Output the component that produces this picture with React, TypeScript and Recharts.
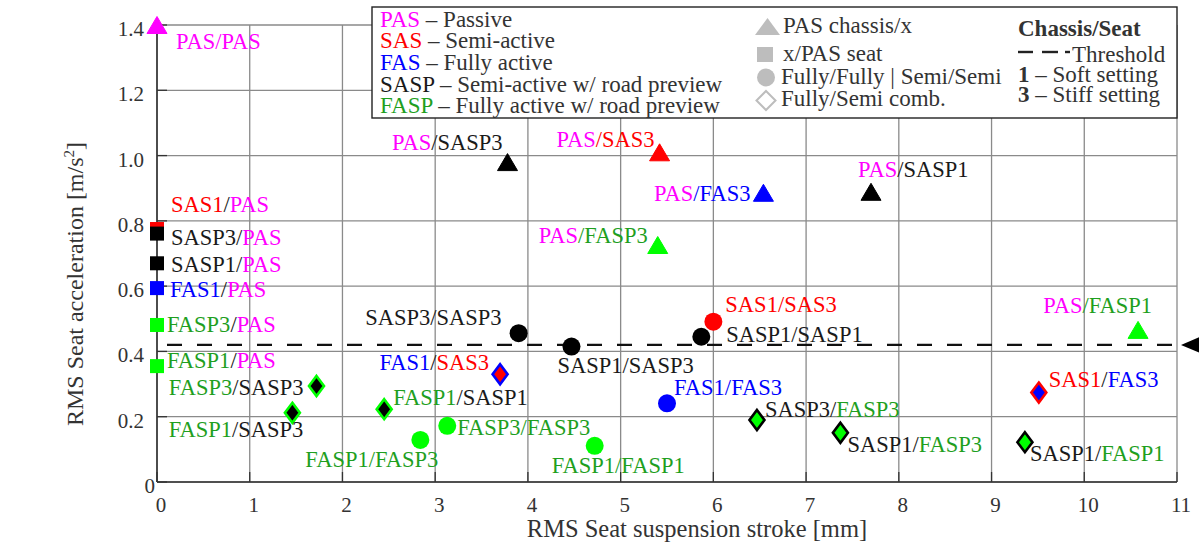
import React from 'react';
import {
  ScatterChart,
  Scatter,
  XAxis,
  YAxis,
  CartesianGrid,
  ReferenceLine,
  ReferenceDot,
} from 'recharts';

// ---------------- data ----------------
const xTicks = [0, 1, 2, 3, 4, 5, 6, 7, 8, 9, 10, 11];
const yTicks = [0, 0.2, 0.4, 0.6, 0.8, 1.0, 1.2, 1.4];
const yTickLabels = ['0', '0.2', '0.4', '0.6', '0.8', '1.0', '1.2', '1.4'];
const threshold = 0.42;

// PAS chassis / x seat  (triangles)
const trianglePoints = [
  { name: 'PAS/PAS', x: 0, y: 1.4 },
  { name: 'PAS/SASP3', x: 3.78, y: 0.98 },
  { name: 'PAS/SAS3', x: 5.42, y: 1.01 },
  { name: 'PAS/FAS3', x: 6.54, y: 0.886 },
  { name: 'PAS/FASP3', x: 5.4, y: 0.726 },
  { name: 'PAS/SASP1', x: 7.7, y: 0.889 },
  { name: 'PAS/FASP1', x: 10.58, y: 0.466 },
];

// x chassis / PAS seat (squares)
const squarePoints = [
  { name: 'SAS1/PAS', x: 0, y: 0.775 },
  { name: 'SASP3/PAS', x: 0, y: 0.761 },
  { name: 'SASP1/PAS', x: 0, y: 0.67 },
  { name: 'FAS1/PAS', x: 0, y: 0.594 },
  { name: 'FASP3/PAS', x: 0, y: 0.481 },
  { name: 'FASP1/PAS', x: 0, y: 0.355 },
];

// Fully/Fully | Semi/Semi (circles)
const circlePoints = [
  { name: 'SASP3/SASP3', x: 3.9, y: 0.456 },
  { name: 'SASP1/SASP3', x: 4.47, y: 0.415 },
  { name: 'SAS1/SAS3', x: 6.0, y: 0.491 },
  { name: 'SASP1/SASP1', x: 5.87, y: 0.445 },
  { name: 'FAS1/FAS3', x: 5.5, y: 0.241 },
  { name: 'FASP3/FASP3', x: 3.13, y: 0.172 },
  { name: 'FASP1/FASP3', x: 2.84, y: 0.129 },
  { name: 'FASP1/FASP1', x: 4.72, y: 0.111 },
];

// Fully/Semi combinations (diamonds)
const diamondPoints = [
  { name: 'FAS1/SAS3', x: 3.7, y: 0.33 },
  { name: 'FASP3/SASP3', x: 1.72, y: 0.294 },
  { name: 'FASP1/SASP3', x: 1.46, y: 0.212 },
  { name: 'FASP1/SASP1', x: 2.45, y: 0.223 },
  { name: 'SASP3/FASP3', x: 6.47, y: 0.19 },
  { name: 'SASP1/FASP3', x: 7.37, y: 0.151 },
  { name: 'SASP1/FASP1', x: 9.36, y: 0.122 },
  { name: 'SAS1/FAS3', x: 9.51, y: 0.274 },
];

// label placement relative to the marker: [dx, dy(baseline), anchor]
const labelPlacement: Record<string, [number, number, 'start' | 'end']> = {
  'PAS/PAS': [19, 24, 'start'],
  'PAS/SASP3': [-5, -12, 'end'],
  'PAS/SAS3': [-5, -5, 'end'],
  'PAS/FAS3': [-13, 8, 'end'],
  'PAS/FASP3': [-10, -2, 'end'],
  'PAS/SASP1': [-13, -15, 'start'],
  'PAS/FASP1': [14, -17, 'end'],
  'SAS1/PAS': [14, -17, 'start'],
  'SASP3/PAS': [14, 11, 'start'],
  'SASP1/PAS': [14, 9, 'start'],
  'FAS1/PAS': [13, 9, 'start'],
  'FASP3/PAS': [10, 7, 'start'],
  'FASP1/PAS': [10, 2, 'start'],
  'SASP3/SASP3': [-17, -8, 'end'],
  'SASP1/SASP3': [-14, 26, 'start'],
  'SASP1/SASP1': [25, 5, 'start'],
  'SAS1/SAS3': [12, -10, 'start'],
  'FAS1/FAS3': [7, -8, 'start'],
  'FASP3/FASP3': [10, 9, 'start'],
  'FASP1/FASP3': [18, 27, 'end'],
  'FASP1/FASP1': [-43, 27, 'start'],
  'FAS1/SAS3': [-11, -4, 'end'],
  'FASP3/SASP3': [-13, 9, 'end'],
  'FASP1/SASP3': [11, 24, 'end'],
  'FASP1/SASP1': [9, -4, 'start'],
  'SASP3/FASP3': [8, -3, 'start'],
  'SASP1/FASP3': [7, 19, 'start'],
  'SASP1/FASP1': [5, 19, 'start'],
  'SAS1/FAS3': [10, -6, 'start'],
};

// ---------------- styles ----------------
const FONT = '"Liberation Serif", "Times New Roman", serif';
const MAGENTA = '#ff00ff';
const RED = '#ff0000';
const BLUE = '#0000ff';
const BLACK = '#000000';
const GREEN_MARK = '#00ff00';
const GREEN_TEXT = '#1f9f1f';
const DARK_TEXT = '#1a1a1a';
const AXIS = '#333333';

const kindOf = (p: string) =>
  p.startsWith('PAS') ? 'PAS' : p.startsWith('SASP') ? 'SASP' : p.startsWith('SAS') ? 'SAS' : p.startsWith('FASP') ? 'FASP' : 'FAS';

const markColor = (p: string) =>
  ({ PAS: MAGENTA, SASP: BLACK, SAS: RED, FASP: GREEN_MARK, FAS: BLUE } as Record<string, string>)[kindOf(p)];
const textColor = (p: string) =>
  ({ PAS: MAGENTA, SASP: DARK_TEXT, SAS: RED, FASP: GREEN_TEXT, FAS: BLUE } as Record<string, string>)[kindOf(p)];

const PointLabel = ({ cx, cy, name }: { cx: number; cy: number; name: string }) => {
  const [a, b] = name.split('/');
  const place = labelPlacement[name] || [10, 0, 'start'];
  const ka = kindOf(a);
  const kb = kindOf(b);
  const slash = ka === 'PAS' ? textColor(b) : ka === kb ? textColor(a) : DARK_TEXT;
  return (
    <text
      x={cx + place[0]}
      y={cy + place[1]}
      textAnchor={place[2]}
      fontFamily={FONT}
      fontSize={22.5}
    >
      <tspan fill={textColor(a)}>{a}</tspan>
      <tspan fill={slash}>/</tspan>
      <tspan fill={textColor(b)}>{b}</tspan>
    </text>
  );
};

type Kind = 'triangle' | 'square' | 'circle' | 'diamond';

const makeShape = (kind: Kind) => (props: any) => {
  const { cx, cy, payload } = props;
  if (cx == null || cy == null) return <g />;
  const name: string = payload.name;
  const [chassis, seat] = name.split('/');
  let mark: React.ReactNode = null;
  if (kind === 'triangle') {
    mark = (
      <polygon
        points={`${cx},${cy - 8.5} ${cx - 10},${cy + 8.5} ${cx + 10},${cy + 8.5}`}
        fill={markColor(seat)}
        stroke={markColor(seat)}
        strokeWidth={1}
        strokeLinejoin="round"
      />
    );
  } else if (kind === 'square') {
    mark = <rect x={cx - 7} y={cy - 7} width={14} height={14} fill={markColor(chassis)} />;
  } else if (kind === 'circle') {
    mark = <circle cx={cx} cy={cy} r={9} fill={markColor(seat)} />;
  } else {
    mark = (
      <polygon
        points={`${cx},${cy - 10} ${cx + 7.5},${cy} ${cx},${cy + 10} ${cx - 7.5},${cy}`}
        fill={markColor(seat)}
        stroke={markColor(chassis)}
        strokeWidth={2.6}
        strokeLinejoin="miter"
      />
    );
  }
  return (
    <g>
      {mark}
      <PointLabel cx={cx} cy={cy} name={name} />
    </g>
  );
};

const XTick = (props: any) => {
  const { x, y, payload } = props;
  return (
    <text x={x + 4} y={y + 40} textAnchor="middle" fontFamily={FONT} fontSize={21} fill={AXIS}>
      {payload.value}
    </text>
  );
};

const YTick = (props: any) => {
  const { x, y, payload } = props;
  const i = yTicks.indexOf(payload.value);
  const label = i >= 0 ? yTickLabels[i] : String(payload.value);
  const shift = payload.value === 0 ? -12 : -23;
  return (
    <text x={x + shift} y={y + 11} textAnchor="end" fontFamily={FONT} fontSize={21} fill={AXIS}>
      {label}
    </text>
  );
};

const NoTick = () => <g />;

const XTitle = () => (
  <text x={697} y={537} textAnchor="middle" fontFamily={FONT} fontSize={24.5} fill={AXIS}>
    RMS Seat suspension stroke [mm]
  </text>
);

const YTitle = () => (
  <text
    transform="translate(83,284) rotate(-90)"
    textAnchor="middle"
    fontFamily={FONT}
    fontSize={24}
    fill={AXIS}
  >
    RMS Seat acceleration [m/s
    <tspan dy={-9} fontSize={15}>2</tspan>
    <tspan dy={9}>]</tspan>
  </text>
);

const ArrowShape = (props: any) => {
  const { cx, cy } = props;
  return <polygon points={`${cx + 4},${cy} ${cx + 25},${cy - 9} ${cx + 25},${cy + 9}`} fill={BLACK} />;
};

const Legend = () => {
  const grey = '#bdbdbd';
  const t = { fontFamily: FONT, fontSize: 23 } as const;
  const rows: [string, string, string][] = [
    ['PAS', MAGENTA, ' – Passive'],
    ['SAS', RED, ' – Semi-active'],
    ['FAS', BLUE, ' – Fully active'],
    ['SASP', DARK_TEXT, ' – Semi-active w/ road preview'],
    ['FASP', GREEN_TEXT, ' – Fully active w/ road preview'],
  ];
  return (
    <svg
      width={1199}
      height={547}
      style={{ position: 'absolute', left: 0, top: 0, pointerEvents: 'none' }}
    >
      <rect x={372} y={7} width={805} height={111} fill="#ffffff" stroke="#222" strokeWidth={1.4} />
      {rows.map((r, i) => (
        <text key={r[0]} x={380} y={26.7 + i * 21.6} {...t}>
          <tspan fill={r[1]}>{r[0]}</tspan>
          <tspan fill={AXIS}>{r[2]}</tspan>
        </text>
      ))}
      <polygon points="767.5,18 755,35 780,35" fill={grey} />
      <text x={783} y={33} {...t} fill={AXIS}>PAS chassis/x</text>
      <rect x={757} y={47} width={16} height={15} fill={grey} />
      <text x={783} y={61} {...t} fill={AXIS}>x/PAS seat</text>
      <circle cx={766} cy={77.5} r={9} fill={grey} />
      <text x={781} y={84} {...t} fill={AXIS}>Fully/Fully | Semi/Semi</text>
      <polygon points="766,91 775.5,100.5 766,110 756.5,100.5" fill="#fff" stroke={grey} strokeWidth={2} />
      <text x={781} y={106} {...t} fill={AXIS}>Fully/Semi comb.</text>

      <text x={1018} y={36} {...t} fontWeight="bold" fill={AXIS}>Chassis/Seat</text>
      <line x1={1018} y1={52} x2={1033} y2={52} stroke="#222" strokeWidth={2.4} />
      <line x1={1042} y1={52} x2={1058} y2={52} stroke="#222" strokeWidth={2.4} />
      <line x1={1065} y1={52} x2={1070} y2={52} stroke="#222" strokeWidth={2.4} />
      <text x={1072} y={62} {...t} fill={AXIS}>Threshold</text>
      <text x={1018} y={82} {...t} fill={AXIS}>
        <tspan fontWeight="bold">1</tspan> – Soft setting
      </text>
      <text x={1018} y={102} {...t} fill={AXIS}>
        <tspan fontWeight="bold">3</tspan> – Stiff setting
      </text>
    </svg>
  );
};

export default function App() {
  return (
    <div style={{ position: 'relative', width: 1199, height: 547, background: '#fff' }}>
      <style>{'body{margin:0;}'}</style>
      <ScatterChart width={1199} height={547} margin={{ top: 25, right: 22, bottom: 0, left: 0 }}>
        <CartesianGrid stroke="#8a8a8a" strokeWidth={1.3} />
        <XAxis
          type="number"
          dataKey="x"
          domain={[0, 11]}
          ticks={xTicks}
          interval={0}
          height={65}
          tickSize={-10}
          tickMargin={0}
          tick={<XTick />}
          tickLine={{ stroke: AXIS, strokeWidth: 1.3 }}
          axisLine={{ stroke: AXIS, strokeWidth: 1.6 }}
          label={<XTitle />}
        />
        <XAxis
          xAxisId="top"
          orientation="top"
          type="number"
          domain={[0, 11]}
          ticks={xTicks}
          interval={0}
          height={0}
          tickSize={-10}
          tickMargin={0}
          tick={NoTick}
          tickLine={{ stroke: AXIS, strokeWidth: 1.3 }}
          axisLine={{ stroke: AXIS, strokeWidth: 1.6 }}
        />
        <YAxis
          type="number"
          dataKey="y"
          domain={[0, 1.4]}
          ticks={yTicks}
          interval={0}
          width={157}
          tickSize={-10}
          tickMargin={0}
          tick={<YTick />}
          tickLine={{ stroke: AXIS, strokeWidth: 1.3 }}
          axisLine={{ stroke: AXIS, strokeWidth: 1.6 }}
          label={<YTitle />}
        />
        <YAxis
          yAxisId="right"
          orientation="right"
          type="number"
          domain={[0, 1.4]}
          ticks={yTicks}
          interval={0}
          width={0}
          tickSize={-10}
          tickMargin={0}
          tick={NoTick}
          tickLine={{ stroke: AXIS, strokeWidth: 1.3 }}
          axisLine={{ stroke: '#666', strokeWidth: 1.6 }}
        />
        <ReferenceLine
          y={threshold}
          stroke="#111"
          strokeWidth={2.2}
          strokeDasharray="15 15"
          strokeDashoffset={20}
        />
        <ReferenceDot x={11} y={threshold} r={8} shape={ArrowShape} ifOverflow="visible" />
        <Scatter data={squarePoints} shape={makeShape('square')} isAnimationActive={false} />
        <Scatter data={trianglePoints} shape={makeShape('triangle')} isAnimationActive={false} />
        <Scatter data={circlePoints} shape={makeShape('circle')} isAnimationActive={false} />
        <Scatter data={diamondPoints} shape={makeShape('diamond')} isAnimationActive={false} />
      </ScatterChart>
      <Legend />
    </div>
  );
}
